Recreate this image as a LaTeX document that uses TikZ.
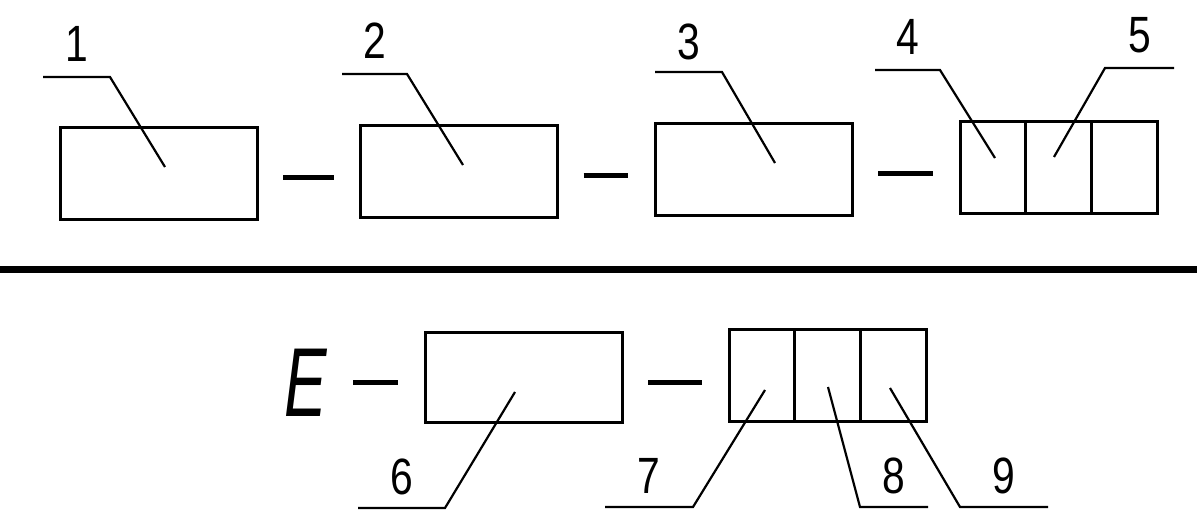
\documentclass[tikz,border=0pt]{standalone}
\usepackage{fontspec}
\usetikzlibrary{positioning}
\newfontfamily\numfont[FakeStretch=0.8]{Liberation Sans}
\newfontfamily\efont[FakeStretch=0.65]{Liberation Sans}

\begin{document}
\begin{tikzpicture}[x=1pt, y=-1pt,
    blk/.style={draw, line width=3pt, inner sep=0pt, outer sep=0pt, minimum width=197pt, minimum height=92pt},
    cell/.style={draw, line width=3pt, inner sep=0pt, outer sep=0pt, minimum width=65.7pt, minimum height=92pt},
    bond/.style={line width=5pt, shorten <=26pt, shorten >=27pt},
    leader/.style={line width=2.2pt},
    num/.style={font=\numfont\fontsize{51}{51}\selectfont, inner sep=0pt, outer sep=0pt, text depth=15pt, anchor=south}]
      \useasboundingbox (0,0) rectangle (1197,510);

      % Upper row
      \node[blk] (box1) at (158.5,174) {};
      \node[blk] (box2) at (459,171.5) {};
      \node[blk] (box3) at (753.5,169.5) {};
      \node[cell] (c4) at (992.9,167.5) {};
      \node[cell, right=0pt of c4] (c5) {};
      \node[cell, right=0pt of c5] (c5x) {};

      % Lower row
      \node[font=\efont\itshape\fontsize{98}{98}\selectfont, inner sep=0pt, outer sep=0pt] (E) at (306,383) {E};
      \node[blk, minimum height=90pt] (box6) at (523.5,378) {};
      \node[cell] (c7) at (761.9,376) {};
      \node[cell, right=0pt of c7] (c8) {};
      \node[cell, right=0pt of c8] (c9) {};

      % Bonds
      \draw[bond] ([yshift=-4pt]box1.east) -- ([yshift=-4pt]box1.east -| box2.west);
      \draw[bond] ([yshift=-4pt]box2.east) -- ([yshift=-4pt]box2.east -| box3.west);
      \draw[bond] ([yshift=-4pt]box3.east) -- ([yshift=-4pt]box3.east -| c4.west);
      \draw[bond] (E.east) -- (E.east -| box6.west);
      \draw[bond] ([yshift=-5pt]box6.east) -- ([yshift=-5pt]box6.east -| c7.west);

      % Divider
      \draw[line width=7pt] (0,270) -- (1197,270);

      % Numbers
      \node[num, minimum width=67pt] (n1) at (76.5,77) {1};
      \node[num, minimum width=65pt] (n2) at (374.5,74) {2};
      \node[num, minimum width=67pt, text depth=12pt] (n3) at (688.5,72) {3};
      \node[num, minimum width=65pt] (n4) at (907.5,70) {4};
      \node[num, minimum width=69pt] (n5) at (1139.5,68) {5};
      \node[num, minimum width=87pt, text depth=14pt] (n6) at (401.5,508) {6};
      \node[num, minimum width=88pt, text depth=14pt] (n7) at (649,507) {7};
      \node[num, minimum width=68pt, text depth=14pt] (n8) at (894,507) {8};
      \node[num, minimum width=88pt, text depth=14pt] (n9) at (1004,507) {9};

      % Leader ends
      \coordinate (t1) at (165,167);
      \coordinate (t2) at (463,165);
      \coordinate (t3) at (775,163);
      \coordinate (t4) at (995,158);
      \coordinate (t5) at (1054,157);
      \coordinate (t6) at (515,392);
      \coordinate (t7) at (765,390);
      \coordinate (t8) at (828,387);
      \coordinate (t9) at (890,388);

      % Leaders
      \draw[leader] (n1.south west) -- (n1.south east) -- (t1);
      \draw[leader] (n2.south west) -- (n2.south east) -- (t2);
      \draw[leader] (n3.south west) -- (n3.south east) -- (t3);
      \draw[leader] (n4.south west) -- (n4.south east) -- (t4);
      \draw[leader] (n5.south east) -- (n5.south west) -- (t5);
      \draw[leader] (n6.south west) -- (n6.south east) -- (t6);
      \draw[leader] (n7.south west) -- (n7.south east) -- (t7);
      \draw[leader] (n8.south east) -- (n8.south west) -- (t8);
      \draw[leader] (n9.south east) -- (n9.south west) -- (t9);
    \end{tikzpicture}
\end{document}
